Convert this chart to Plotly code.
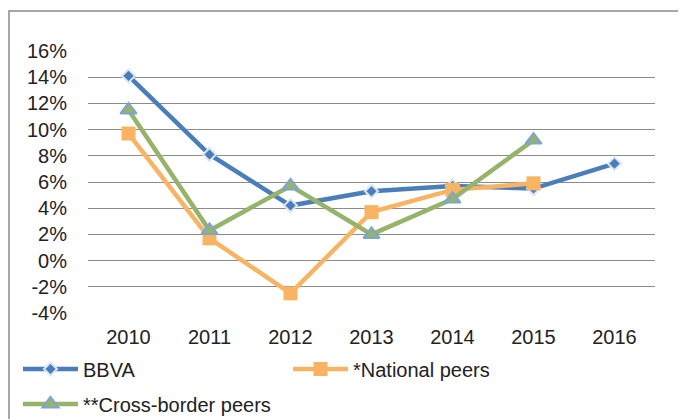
import plotly.graph_objects as go

years = ["2010", "2011", "2012", "2013", "2014", "2015", "2016"]
bbva = [14.1, 8.1, 4.2, 5.3, 5.7, 5.5, 7.4]
national = [9.7, 1.7, -2.5, 3.7, 5.4, 5.9, None]
crossborder = [11.5, 2.3, 5.7, 2.0, 4.7, 9.2, None]
ytick_vals = [-4, -2, 0, 2, 4, 6, 8, 10, 12, 14, 16]
ytick_text = [f"{v}%" for v in ytick_vals]

BLUE = "#4a7ebb"
ORANGE = "#f8b462"
GREEN = "#96b36b"

fig = go.Figure()
fig.add_trace(go.Scatter(
    x=years, y=bbva, name="BBVA", mode="lines+markers",
    line=dict(color=BLUE, width=4.5),
    marker=dict(symbol="diamond", size=10, color=BLUE, line=dict(color="#dce6f2", width=2)),
    legend="legend"))
fig.add_trace(go.Scatter(
    x=years, y=national, name="*National peers", mode="lines+markers",
    line=dict(color=ORANGE, width=4.5),
    marker=dict(symbol="square", size=14, color=ORANGE, line=dict(color=ORANGE, width=0)),
    legend="legend"))
fig.add_trace(go.Scatter(
    x=years, y=crossborder, name="**Cross-border peers", mode="lines+markers",
    line=dict(color=GREEN, width=4.5),
    marker=dict(symbol="triangle-up", size=14, color=GREEN, line=dict(color="#7ea4cf", width=2)),
    legend="legend2"))

# page body has an 8px default margin; work in screen pixels and shift
OFF = 8
W, H = 686 - OFF, 419 - OFF
L, T = 88 - OFF, 51 - OFF
R = W - (655 - OFF)
B = H - (313 - OFF)
pw, ph = W - L - R, H - T - B

def px_x(x):
    return (x - OFF - L) / pw

def px_y(y):
    return (H - B - (y - OFF)) / ph

FONT = "Liberation Sans, Arial, sans-serif"
fig.update_layout(
    width=W, height=H,
    margin=dict(l=L, r=R, t=T, b=B, pad=0, autoexpand=False),
    paper_bgcolor="white", plot_bgcolor="white",
    font=dict(family=FONT, size=20, color="#222222"),
    xaxis=dict(type="category", range=[-0.5, 6.5], showgrid=False, zeroline=False,
               showline=False, ticks="", ticklabelstandoff=10,
               tickfont=dict(size=20, color="#222222")),
    yaxis=dict(range=[-4, 16], tickvals=ytick_vals, ticktext=ytick_text,
               showgrid=True, gridcolor="#8c8c8c", gridwidth=1, zeroline=False,
               showline=False, ticks="", ticklabelstandoff=20,
               tickfont=dict(size=20, color="#222222")),
    legend=dict(orientation="h", x=px_x(18), y=px_y(369), xanchor="left", yanchor="middle",
                entrywidth=200, itemwidth=55, bgcolor="rgba(0,0,0,0)",
                font=dict(size=20, color="#222222")),
    legend2=dict(orientation="h", x=px_x(18), y=px_y(404), xanchor="left", yanchor="middle",
                 itemwidth=55, bgcolor="rgba(0,0,0,0)",
                 font=dict(size=20, color="#222222")),
    shapes=[dict(type="rect", xref="paper", yref="paper",
                 x0=px_x(9), x1=px_x(681), y0=px_y(440), y1=px_y(11),
                 line=dict(color="#8a8a8a", width=1.5), fillcolor="rgba(0,0,0,0)", layer="below")],
)

fig.write_html("out.html")
